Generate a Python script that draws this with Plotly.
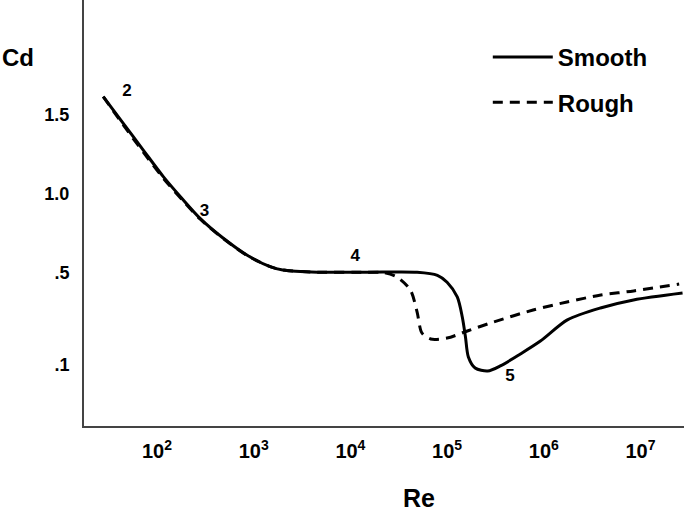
import numpy as np
import plotly.graph_objects as go

# values
re_smooth = [10**1.444, 10**1.651, 10**1.858, 10**2.065, 10**2.272, 10**2.445, 10**2.686, 10**2.929,
             10**3.17, 10**3.30, 10**3.66, 10**4.17, 10**4.69, 10**4.90, 10**5.00, 10**5.105,
             10**5.157, 10**5.19, 10**5.22, 10**5.29, 10**5.42, 10**5.551, 10**5.758, 10**5.965,
             10**6.244, 10**6.586, 10**6.928, 10**7.435]
cd_smooth = [1.616, 1.447, 1.278, 1.110, 0.962, 0.846, 0.720, 0.614,
             0.540, 0.519, 0.505, 0.505, 0.505, 0.49, 0.46, 0.396,
             0.309, 0.222, 0.135, 0.087, 0.074, 0.096, 0.148, 0.204,
             0.296, 0.348, 0.383, 0.413]

re_rough = [10**1.444, 10**1.651, 10**1.858, 10**2.065, 10**2.272, 10**2.445, 10**2.686, 10**2.929,
            10**3.17, 10**3.30, 10**3.66, 10**4.17, 10**4.34, 10**4.48, 10**4.62, 10**4.69,
            10**4.74, 10**4.83, 10**5.00, 10**5.21, 10**5.48, 10**5.89, 10**6.24, 10**6.59,
            10**6.93, 10**7.40]
cd_rough = [1.616, 1.437, 1.265, 1.100, 0.955, 0.842, 0.718, 0.612,
            0.540, 0.519, 0.505, 0.505, 0.503, 0.483, 0.426, 0.330,
            0.239, 0.213, 0.217, 0.248, 0.287, 0.339, 0.374, 0.404,
            0.422, 0.452]

regime_labels = ["2", "3", "4", "5"]
regime_re = [10**1.69, 10**2.49, 10**4.05, 10**5.65]
regime_cd = [1.645, 0.886, 0.60, 0.048]

x_ticks = [1e2, 1e3, 1e4, 1e5, 1e6, 1e7]
x_ticktext = ["10<sup>2</sup>", "10<sup>3</sup>", "10<sup>4</sup>",
              "10<sup>5</sup>", "10<sup>6</sup>", "10<sup>7</sup>"]
y_ticks = [1.5, 1.0, 0.5, 0.1]
y_ticktext = ["1.5", "1.0", ".5", ".1"]

# the sketch's Cd scale is not linear: map Cd onto the drawn scale
cd_anchor = [0.0, 0.1, 0.5, 1.0, 1.5, 2.0]
pos_anchor = [38, 61, 153, 232, 311, 390]


def cd_pos(v):
    return np.interp(v, cd_anchor, pos_anchor)


font = "Liberation Sans, Arial, sans-serif"

fig = go.Figure()
fig.add_trace(go.Scatter(x=re_smooth, y=cd_pos(cd_smooth), mode="lines", name="Smooth",
                         legendgroup="Smooth",
                         line=dict(color="black", width=3, shape="spline", smoothing=0.8)))
fig.add_trace(go.Scatter(x=re_rough, y=cd_pos(cd_rough), mode="lines", name="Rough",
                         legendgroup="Rough",
                         line=dict(color="black", width=3, dash="10px,7px",
                                   shape="spline", smoothing=0.8)))
fig.add_trace(go.Scatter(x=regime_re, y=cd_pos(regime_cd), mode="text", text=regime_labels,
                         textfont=dict(family=font, size=17, color="black", weight="bold"),
                         showlegend=False, hoverinfo="skip"))

fig.update_layout(
    width=688, height=514,
    margin=dict(l=84, r=4, t=0, b=88),
    paper_bgcolor="white", plot_bgcolor="white",
    font=dict(family=font, color="black"),
    legend=dict(x=0.673, y=0.918, xanchor="left", yanchor="top",
                font=dict(family=font, size=24, color="black", weight="bold"),
                tracegroupgap=11, traceorder="grouped", itemwidth=60),
    xaxis=dict(type="log", range=[1.245, 7.45], tickvals=x_ticks, ticktext=x_ticktext,
               showgrid=False, zeroline=False, showline=True, linecolor="#444", linewidth=2,
               ticks="", ticklabelstandoff=6, automargin=False,
               tickfont=dict(family=font, size=20, weight="bold")),
    yaxis=dict(range=[0, 426], tickvals=cd_pos(y_ticks), ticktext=y_ticktext,
               showgrid=False, zeroline=False, showline=True, linecolor="#444", linewidth=2,
               ticks="", ticklabelstandoff=9, automargin=False,
               tickfont=dict(family=font, size=18, weight="bold")),
    annotations=[
        dict(text="Cd", xref="paper", yref="paper", x=-0.11, y=0.866,
             xanchor="center", yanchor="middle",
             showarrow=False, font=dict(family=font, size=24, weight="bold")),
        dict(text="Re", xref="paper", yref="paper", x=0.558, y=-0.169,
             xanchor="center", yanchor="middle",
             showarrow=False, font=dict(family=font, size=25, weight="bold")),
    ],
)

fig.write_html("out.html", config={"displayModeBar": False},
               post_script="document.body.style.margin='0';")
